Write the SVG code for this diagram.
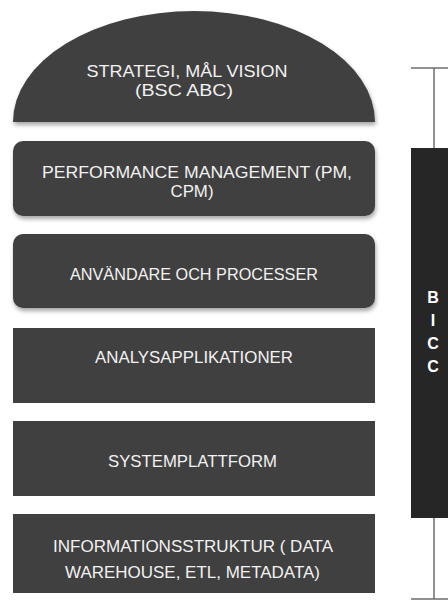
<svg xmlns="http://www.w3.org/2000/svg" width="448" height="603" viewBox="0 0 448 603">
  <defs>
    <filter id="soft" x="-5%" y="-10%" width="112%" height="130%">
      <feDropShadow dx="1" dy="3" stdDeviation="2" flood-color="#000" flood-opacity="0.35"/>
    </filter>
    <style>
      .layer { fill: #404040; }
      .label { fill: #f2f2f2; font-family: "Liberation Sans", Arial, sans-serif; font-size: 16.5px; text-anchor: middle; }
      .bicc { fill: #262626; }
      .letter { fill: #ffffff; font-family: "Liberation Sans", Arial, sans-serif; font-size: 16px; font-weight: bold; text-anchor: middle; }
      .bracket { stroke: #6e6e6e; stroke-width: 1.5; fill: none; }
    </style>
  </defs>
  <rect width="448" height="603" fill="#ffffff"/>

  <!-- top dome -->
  <g id="strategi">
    <path class="layer" filter="url(#soft)" d="M13 122 A181 111 0 0 1 375 122 Z"/>
    <text class="label" x="187" y="77" textLength="201" lengthAdjust="spacingAndGlyphs">STRATEGI, MÅL VISION</text>
    <text class="label" x="184" y="96" textLength="98" lengthAdjust="spacingAndGlyphs">(BSC ABC)</text>
  </g>

  <g id="performance">
    <rect class="layer" filter="url(#soft)" x="13" y="141" width="362" height="75" rx="10"/>
    <text class="label" x="197" y="178" textLength="310" lengthAdjust="spacingAndGlyphs">PERFORMANCE MANAGEMENT (PM,</text>
    <text class="label" x="192" y="197" textLength="43" lengthAdjust="spacingAndGlyphs">CPM)</text>
  </g>

  <g id="anvandare">
    <rect class="layer" filter="url(#soft)" x="13" y="234" width="362" height="74" rx="10"/>
    <text class="label" x="194" y="280" textLength="248" lengthAdjust="spacingAndGlyphs">ANVÄNDARE OCH PROCESSER</text>
  </g>

  <g id="analys">
    <rect class="layer" x="13" y="328" width="362" height="75"/>
    <text class="label" x="194" y="363" textLength="198" lengthAdjust="spacingAndGlyphs">ANALYSAPPLIKATIONER</text>
  </g>

  <g id="system">
    <rect class="layer" x="13" y="421" width="362" height="75"/>
    <text class="label" x="192.5" y="467" textLength="169" lengthAdjust="spacingAndGlyphs">SYSTEMPLATTFORM</text>
  </g>

  <g id="information">
    <rect class="layer" x="13" y="514" width="362" height="79"/>
    <text class="label" x="193" y="552" textLength="280" lengthAdjust="spacingAndGlyphs">INFORMATIONSSTRUKTUR ( DATA</text>
    <text class="label" x="192.5" y="578" textLength="255" lengthAdjust="spacingAndGlyphs">WAREHOUSE, ETL, METADATA)</text>
  </g>

  <!-- span bracket -->
  <g id="connectors">
    <path class="bracket" d="M411 68 H448 M434 68 V148 M434 518 V599 M411 599 H448"/>
  </g>

  <g id="bicc">
    <rect class="bicc" x="411" y="148" width="37" height="370"/>
    <text class="letter" x="433" y="303">B</text>
    <text class="letter" x="433" y="326">I</text>
    <text class="letter" x="433" y="349">C</text>
    <text class="letter" x="433" y="372">C</text>
  </g>
</svg>
